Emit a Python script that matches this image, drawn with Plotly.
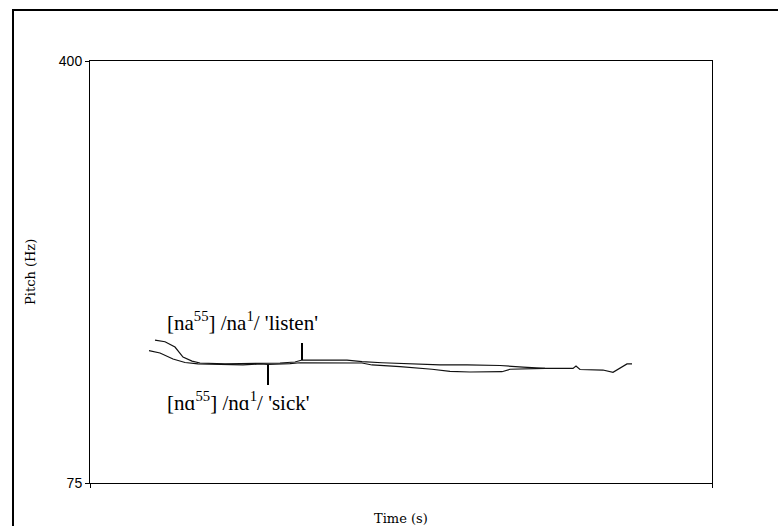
import plotly.graph_objects as go

# ---- data (time in s, pitch in Hz) ----
listen_t = [0.065, 0.075, 0.085, 0.093, 0.102, 0.110, 0.135, 0.160, 0.190, 0.205, 0.212,
            0.257, 0.272, 0.292, 0.323, 0.350, 0.377, 0.410, 0.433, 0.455]
listen_hz = [185.1, 183.8, 179.7, 172.0, 168.9, 167.4, 166.7, 167.0, 167.4, 168.2, 169.7,
             169.7, 168.4, 167.6, 166.7, 165.9, 165.9, 165.5, 164.3, 163.3]

sick_t = [0.059, 0.070, 0.083, 0.095, 0.108, 0.138, 0.153, 0.170, 0.178, 0.200, 0.210,
          0.272, 0.282, 0.310, 0.330, 0.342, 0.360, 0.380, 0.412, 0.420, 0.455, 0.483,
          0.486, 0.490, 0.513, 0.523, 0.537, 0.542]
sick_hz = [176.9, 175.1, 170.5, 167.8, 166.7, 165.9, 165.9, 166.7, 166.3, 167.0, 167.6,
           167.4, 165.9, 164.6, 163.6, 162.6, 160.9, 160.5, 160.7, 162.6, 163.3, 163.3,
           165.1, 162.4, 162.0, 160.2, 166.7, 166.7]

# marker ticks: (time, from Hz, to Hz)
listen_mark = (0.212, 169.7, 182.8)
sick_mark = (0.178, 165.9, 150.5)

labels = ["[na<sup>55</sup>] /na<sup>1</sup>/ 'listen'",
          "[n\u0251<sup>55</sup>] /n\u0251<sup>1</sup>/ 'sick'"]
label_pos = [(0.075, 199.0), (0.075, 137.4)]

x_range = [0.0, 0.622]
y_range = [75, 400]

fig = go.Figure()
fig.add_trace(go.Scatter(x=listen_t, y=listen_hz, mode="lines",
                         line=dict(color="#111111", width=1.2), showlegend=False))
fig.add_trace(go.Scatter(x=sick_t, y=sick_hz, mode="lines",
                         line=dict(color="#111111", width=1.2), showlegend=False))
for m in (listen_mark, sick_mark):
    fig.add_trace(go.Scatter(x=[m[0], m[0]], y=[m[1], m[2]], mode="lines",
                             line=dict(color="black", width=2), showlegend=False))

serif = "Liberation Serif, Times New Roman, serif"
for txt, (tx, ty) in zip(labels, label_pos):
    fig.add_annotation(x=tx, y=ty, xref="x", yref="y", text=txt, showarrow=False,
                       xanchor="left", yanchor="middle",
                       font=dict(family=serif, size=21, color="black"))

wide_serif = "DejaVu Serif, serif"
fig.add_annotation(x=-0.0965, y=0.5, xref="paper", yref="paper", text="Pitch (Hz)",
                   textangle=-90, showarrow=False, xanchor="center", yanchor="middle",
                   font=dict(family=wide_serif, size=13, color="black"))
fig.add_annotation(x=0.5, y=-0.0853, xref="paper", yref="paper", text="Time (s)",
                   showarrow=False, xanchor="center", yanchor="middle",
                   font=dict(family=wide_serif, size=13, color="black"))

# outer frame
fig.add_shape(type="rect", xref="paper", yref="paper",
              x0=-0.1238, y0=-0.3, x1=1.5, y1=1.1209,
              line=dict(color="black", width=2), layer="below")

fig.update_xaxes(range=x_range, showgrid=False, zeroline=False,
                 showline=True, linecolor="black", linewidth=1, mirror=True,
                 ticks="outside", ticklen=4, tickcolor="black",
                 tickvals=x_range, showticklabels=False)
fig.update_yaxes(range=y_range, showgrid=False, zeroline=False,
                 showline=True, linecolor="black", linewidth=1, mirror=True,
                 ticks="outside", ticklen=4, tickcolor="black",
                 tickvals=y_range, ticktext=["75", "400"],
                 tickfont=dict(family="Liberation Sans, Arial, sans-serif",
                               size=14, color="black"))

fig.update_layout(width=778, height=526,
                  margin=dict(l=90, r=66, t=61, b=43, pad=0),
                  paper_bgcolor="white", plot_bgcolor="white",
                  showlegend=False)

fig.write_html("out.html")
